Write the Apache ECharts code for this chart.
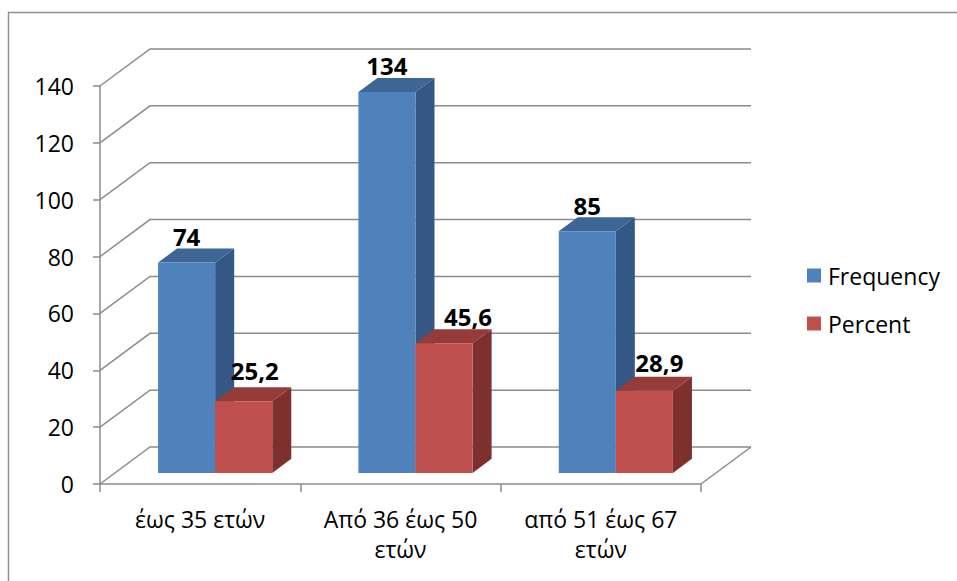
<!DOCTYPE html>
<html>
<head>
<meta charset="utf-8">
<script src="https://cdn.jsdelivr.net/npm/echarts@6/dist/echarts.min.js"></script>
<style>
  html, body { margin: 0; padding: 0; background: #ffffff; }
  #chart { width: 957px; height: 581px; }
</style>
</head>
<body>
<div id="chart"></div>
<script>
// Age groups and their counts / shares
const categories = ['έως 35 ετών', 'Από 36 έως 50 ετών', 'από 51 έως 67 ετών'];
const frequency = [74, 134, 85];
const percent = [25.2, 45.6, 28.9];
const yTicks = [0, 20, 40, 60, 80, 100, 120, 140];
const seriesNames = ['Frequency', 'Percent'];

// Styling for the pseudo-3D look
const DEPTH_X = 50, DEPTH_Y = -37;     // full depth of the floor/wall
const BAR_FRONT = 0.3;                  // depth fraction where bar fronts sit
const BAR_DEPTH = 0.38;                 // depth fraction of each bar
const BAR_FRAC = 0.285;                 // bar width as a fraction of the band
const GRID_COLOR = '#8c8c8c';
const FONT = '"Open Sans", "Liberation Sans", sans-serif';
const AXIS_FONT_SIZE = 23;
const palette = {
  Frequency: { front: '#4f81bd', top: '#3d6596', side: '#345786' },
  Percent:   { front: '#c0504d', top: '#953c39', side: '#7d302e' }
};
// data label nudges (px) per series / point
const labelShift = {
  Frequency: [[0, -26], [0, -26], [0, -26]],
  Percent:   [[11, -31], [24, -27], [15, -28]]
};

// word-wrap a category name so each line fits in maxWidth
const measureCtx = document.createElement('canvas').getContext('2d');
function wrapLabel(text, maxWidth, font) {
  measureCtx.font = font;
  const words = text.split(' ');
  const lines = [];
  let line = '';
  words.forEach(w => {
    const trial = line ? line + ' ' + w : w;
    if (line && measureCtx.measureText(trial).width > maxWidth) {
      lines.push(line);
      line = w;
    } else {
      line = trial;
    }
  });
  if (line) lines.push(line);
  return lines.join('\n');
}

const chart = echarts.init(document.getElementById('chart'), null, { renderer: 'svg' });

function wallItem(params, api) {
  const v = api.value(1);
  const bw = api.size([1, 0])[0];
  const p0 = api.coord([0, v]);
  const p2 = api.coord([categories.length - 1, v]);
  const xL = p0[0] - bw / 2, xR = p2[0] + bw / 2, y = p0[1];
  const style = { stroke: GRID_COLOR, lineWidth: 1.5, fill: null };
  const children = [{
    type: 'polyline',
    shape: { points: [[xL, y], [xL + DEPTH_X, y + DEPTH_Y], [xR + DEPTH_X, y + DEPTH_Y]] },
    style: style, silent: true
  }];
  if (v === 0) {
    children.push({
      type: 'polyline',
      shape: { points: [[xR + DEPTH_X, y + DEPTH_Y], [xR, y]] },
      style: style, silent: true
    });
  }
  return { type: 'group', children: children };
}

function barRenderer(name, sIdx, values) {
  return function (params, api) {
    const i = api.value(0), v = api.value(1);
    const base = api.coord([i, 0]);
    const top = api.coord([i, v]);
    const bw = api.size([1, 0])[0];
    const w = bw * BAR_FRAC;
    const sx = DEPTH_X * BAR_FRONT, sy = DEPTH_Y * BAR_FRONT;
    const xl = base[0] + sx + (sIdx === 0 ? -w : 0);
    const xr = xl + w;
    const yb = base[1] + sy, yt = top[1] + sy;
    const dx = DEPTH_X * BAR_DEPTH, dy = DEPTH_Y * BAR_DEPTH;
    const c = palette[name];
    const shift = labelShift[name][i];
    return {
      type: 'group',
      children: [
        { type: 'polygon', shape: { points: [[xr, yt], [xr + dx, yt + dy], [xr + dx, yb + dy], [xr, yb]] },
          style: { fill: c.side } },
        { type: 'polygon', shape: { points: [[xl, yt], [xl + dx, yt + dy], [xr + dx, yt + dy], [xr, yt]] },
          style: { fill: c.top } },
        { type: 'rect', shape: { x: xl, y: yt, width: w, height: yb - yt },
          style: { fill: c.front } },
        { type: 'text', z2: 10,
          style: {
            text: String(values[i]).replace('.', ','),
            x: (xl + xr) / 2 + shift[0], y: yt + shift[1],
            align: 'center', verticalAlign: 'middle',
            font: 'bold 24px ' + FONT, fill: '#000000'
          } }
      ]
    };
  };
}

chart.setOption({
  animation: false,
  backgroundColor: '#ffffff',
  graphic: [{
    type: 'rect', silent: true,
    shape: { x: 8.5, y: 12.5, width: 1200, height: 1200 },
    style: { fill: null, stroke: '#8f8f8f', lineWidth: 1.5 }
  }],
  legend: {
    orient: 'vertical',
    left: 807, top: 264,
    padding: 0,
    itemWidth: 14, itemHeight: 14, itemGap: 25,
    icon: 'rect',
    data: seriesNames,
    textStyle: { fontFamily: FONT, fontSize: AXIS_FONT_SIZE, color: '#000000', padding: [0, 0, 0, 2] }
  },
  grid: { left: 100, top: 86, width: 601, height: 398, containLabel: false, outerBoundsMode: 'none' },
  xAxis: {
    type: 'category',
    data: categories,
    boundaryGap: true,
    axisLine: { show: true, lineStyle: { color: GRID_COLOR, width: 1.5 } },
    axisTick: { show: true, alignWithLabel: false, length: 8, lineStyle: { color: GRID_COLOR, width: 1.5 } },
    axisLabel: {
      interval: 0, margin: 20,
      fontFamily: FONT, fontSize: AXIS_FONT_SIZE, color: '#000000',
      lineHeight: 30,
      formatter: v => wrapLabel(v, 172, AXIS_FONT_SIZE + 'px ' + FONT)
    },
    splitLine: { show: false }
  },
  yAxis: {
    type: 'value',
    min: 0, max: 140, interval: 20,
    axisLine: { show: true, lineStyle: { color: GRID_COLOR, width: 1.5 } },
    axisTick: { show: true, length: 7, lineStyle: { color: GRID_COLOR, width: 1.5 } },
    axisLabel: { margin: 26, fontFamily: FONT, fontSize: AXIS_FONT_SIZE, color: '#000000' },
    splitLine: { show: false }
  },
  series: [
    {
      type: 'custom', name: '__walls', silent: true, z: 1,
      data: yTicks.map(v => [0, v]),
      encode: { x: 0, y: 1 },
      renderItem: wallItem
    },
    {
      type: 'custom', name: seriesNames[0], z: 2,
      itemStyle: { color: palette.Frequency.front },
      data: frequency.map((v, i) => [i, v]),
      encode: { x: 0, y: 1 },
      renderItem: barRenderer('Frequency', 0, frequency)
    },
    {
      type: 'custom', name: seriesNames[1], z: 3,
      itemStyle: { color: palette.Percent.front },
      data: percent.map((v, i) => [i, v]),
      encode: { x: 0, y: 1 },
      renderItem: barRenderer('Percent', 1, percent)
    }
  ]
});
</script>
</body>
</html>
